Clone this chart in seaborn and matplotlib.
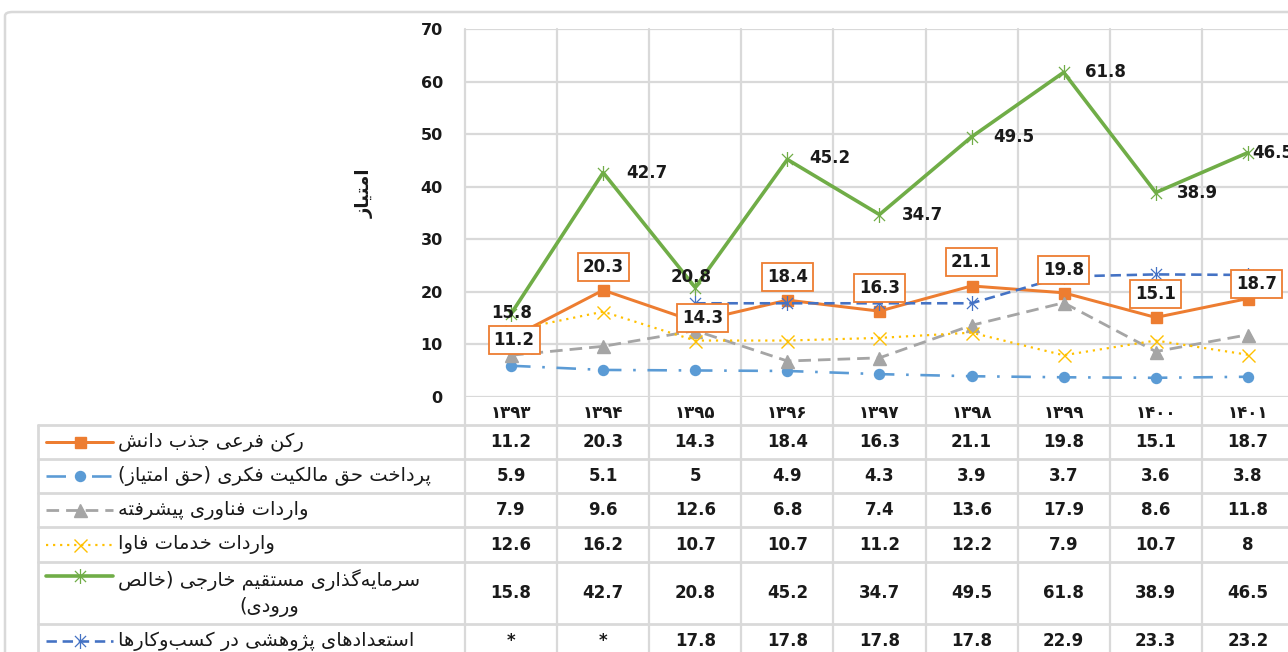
import numpy as np
import pandas as pd
import matplotlib
matplotlib.use("Agg")
import matplotlib.pyplot as plt
import seaborn as sns
from matplotlib.path import Path
from matplotlib.lines import Line2D
from matplotlib.patches import FancyBboxPatch
from matplotlib.transforms import blended_transform_factory

# ---------------- data ----------------
years = ['۱۳۹۳', '۱۳۹۴', '۱۳۹۵', '۱۳۹۶', '۱۳۹۷', '۱۳۹۸', '۱۳۹۹', '۱۴۰۰', '۱۴۰۱']
knowledge = [11.2, 20.3, 14.3, 18.4, 16.3, 21.1, 19.8, 15.1, 18.7]
ip_payments = [5.9, 5.1, 5.0, 4.9, 4.3, 3.9, 3.7, 3.6, 3.8]
hitech_imports = [7.9, 9.6, 12.6, 6.8, 7.4, 13.6, 17.9, 8.6, 11.8]
ict_imports = [12.6, 16.2, 10.7, 10.7, 11.2, 12.2, 7.9, 10.7, 8.0]
fdi = [15.8, 42.7, 20.8, 45.2, 34.7, 49.5, 61.8, 38.9, 46.5]
research = [np.nan, np.nan, 17.8, 17.8, 17.8, 17.8, 22.9, 23.3, 23.2]

series_names = [
    ["رکن فرعی جذب دانش"],
    ["پرداخت حق مالکیت فکری (حق امتیاز)"],
    ["واردات فناوری پیشرفته"],
    ["واردات خدمات فاوا"],
    ["سرمایه\u200cگذاری مستقیم خارجی (خالص", "ورودی)"],
    ["استعدادهای پژوهشی در کسب\u200cوکارها"],
]
y_label = "امتیاز"

# ---------------- Persian shaping (no external libs) ----------------
FORMS = {
    'ا': (0xFE8D, 0xFE8E, None, None), 'آ': (0xFE81, 0xFE82, None, None),
    'ب': (0xFE8F, 0xFE90, 0xFE91, 0xFE92), 'پ': (0xFB56, 0xFB57, 0xFB58, 0xFB59),
    'ت': (0xFE95, 0xFE96, 0xFE97, 0xFE98), 'ث': (0xFE99, 0xFE9A, 0xFE9B, 0xFE9C),
    'ج': (0xFE9D, 0xFE9E, 0xFE9F, 0xFEA0), 'چ': (0xFB7A, 0xFB7B, 0xFB7C, 0xFB7D),
    'ح': (0xFEA1, 0xFEA2, 0xFEA3, 0xFEA4), 'خ': (0xFEA5, 0xFEA6, 0xFEA7, 0xFEA8),
    'د': (0xFEA9, 0xFEAA, None, None), 'ذ': (0xFEAB, 0xFEAC, None, None),
    'ر': (0xFEAD, 0xFEAE, None, None), 'ز': (0xFEAF, 0xFEB0, None, None),
    'ژ': (0xFB8A, 0xFB8B, None, None),
    'س': (0xFEB1, 0xFEB2, 0xFEB3, 0xFEB4), 'ش': (0xFEB5, 0xFEB6, 0xFEB7, 0xFEB8),
    'ص': (0xFEB9, 0xFEBA, 0xFEBB, 0xFEBC), 'ض': (0xFEBD, 0xFEBE, 0xFEBF, 0xFEC0),
    'ط': (0xFEC1, 0xFEC2, 0xFEC3, 0xFEC4), 'ظ': (0xFEC5, 0xFEC6, 0xFEC7, 0xFEC8),
    'ع': (0xFEC9, 0xFECA, 0xFECB, 0xFECC), 'غ': (0xFECD, 0xFECE, 0xFECF, 0xFED0),
    'ف': (0xFED1, 0xFED2, 0xFED3, 0xFED4), 'ق': (0xFED5, 0xFED6, 0xFED7, 0xFED8),
    'ک': (0xFB8E, 0xFB8F, 0xFB90, 0xFB91), 'گ': (0xFB92, 0xFB93, 0xFB94, 0xFB95),
    'ل': (0xFEDD, 0xFEDE, 0xFEDF, 0xFEE0), 'م': (0xFEE1, 0xFEE2, 0xFEE3, 0xFEE4),
    'ن': (0xFEE5, 0xFEE6, 0xFEE7, 0xFEE8), 'ه': (0xFEE9, 0xFEEA, 0xFEEB, 0xFEEC),
    'و': (0xFEED, 0xFEEE, None, None), 'ی': (0xFBFC, 0xFBFD, 0xFBFE, 0xFBFF),
    'ئ': (0xFE89, 0xFE8A, 0xFE8B, 0xFE8C),
}


def shape(text):
    out = []
    n = len(text)
    for i, c in enumerate(text):
        if c not in FORMS:
            out.append(c)
            continue
        prev = text[i - 1] if i > 0 else None
        nxt = text[i + 1] if i < n - 1 else None
        prev_joins = prev in FORMS and FORMS[prev][2] is not None
        can_left = FORMS[c][2] is not None
        next_joins = can_left and (nxt in FORMS)
        iso, fin, ini, med = FORMS[c]
        if prev_joins and next_joins:
            out.append(chr(med))
        elif prev_joins:
            out.append(chr(fin))
        elif next_joins:
            out.append(chr(ini))
        else:
            out.append(chr(iso))
    s = ''.join(out).replace('\u200c', '')
    mirror = {'(': ')', ')': '('}
    return ''.join(mirror.get(ch, ch) for ch in reversed(s))


# ---------------- styles ----------------
W, H = 1288, 652
sns.set_theme(style="white")
plt.rcParams['font.family'] = ['DejaVu Sans']

def fx(x):
    return x / W

def fy(y):
    return 1 - y / H

PT = 0.72  # points per pixel at dpi 100
star = Path([(-1, -1), (1, 1), (-1, 1), (1, -1), (0, -1.35), (0, 1.35)],
            [Path.MOVETO, Path.LINETO, Path.MOVETO, Path.LINETO, Path.MOVETO, Path.LINETO])

all_series = [knowledge, ip_payments, hitech_imports, ict_imports, fdi, research]
styles = [
    dict(color='#ED7D31', lw=3.0 * PT, ls='-', marker='s', ms=11 * PT, mfc='#ED7D31', mec='#ED7D31', mew=1),
    dict(color='#5B9BD5', lw=2.6 * PT, ls=(0, (7.5, 4.5, 1.0, 4.5)), marker='o', ms=10 * PT, mfc='#5B9BD5', mec='#5B9BD5', mew=1),
    dict(color='#A5A5A5', lw=2.8 * PT, ls=(0, (4.5, 2.5)), marker='^', ms=13 * PT, mfc='#A5A5A5', mec='#A5A5A5', mew=1),
    dict(color='#FFC000', lw=2.2 * PT, ls=(0, (1, 2.2)), marker='x', ms=13 * PT, mfc='none', mec='#FFC000', mew=1.0),
    dict(color='#70AD47', lw=3.6 * PT, ls='-', marker=star, ms=15 * PT, mfc='none', mec='#70AD47', mew=0.9),
    dict(color='#4472C4', lw=2.6 * PT, ls=(0, (4, 2.2)), marker=star, ms=15 * PT, mfc='none', mec='#4472C4', mew=0.9),
]
grid_color = '#D9D9D9'

fig = plt.figure(figsize=(W / 100, H / 100), dpi=100)
fig.patch.set_facecolor('white')

ax_left, ax_top, ax_bottom = 465, 29.3, 396.7
col_w = 92.1
ax = fig.add_axes([fx(ax_left), fy(ax_bottom), 9 * col_w / W, (ax_bottom - ax_top) / H])
ax.set_facecolor('none')

x = np.arange(len(years))
for vals, st in zip(all_series, styles):
    df = pd.DataFrame({'x': x, 'y': vals}).dropna()
    sns.lineplot(data=df, x='x', y='y', ax=ax, color=st['color'], linewidth=st['lw'],
                 linestyle=st['ls'], marker=st['marker'], markersize=st['ms'],
                 markerfacecolor=st['mfc'], markeredgecolor=st['mec'], markeredgewidth=st['mew'],
                 errorbar=None, legend=False, clip_on=False, dash_capstyle='butt')

ax.set_xlim(-0.5, len(years) - 0.5)
ax.set_ylim(0, 70)
ax.set_yticks(np.arange(0, 71, 10))
ax.set_yticklabels([str(v) for v in range(0, 71, 10)], fontsize=11.5, fontweight='bold', color='#1a1a1a')
ax.set_xticks(x)
ax.set_xticklabels(years, fontsize=12, fontweight='bold', color='#1a1a1a')
ax.tick_params(axis='y', length=0, pad=16)
ax.tick_params(axis='x', length=0, pad=5)
ax.set_xlabel('')
ax.set_ylabel('')
ax.grid(axis='y', color=grid_color, lw=1.6)
ax.grid(axis='x', visible=False)
for sp in ax.spines.values():
    sp.set_visible(False)
ax.set_axisbelow(True)

fig.text(fx(365), fy(193), shape(y_label), rotation=90, ha='center', va='center',
         fontsize=13, fontweight='bold', color='#1a1a1a')

# ---------------- data labels ----------------
orange_off = [(3, -2), (0, 23), (7, 4), (0, 23), (0, 23), (0, 24), (0, 23), (0, 23), (9, 15)]
for i, (v, (dx, dy)) in enumerate(zip(knowledge, orange_off)):
    ax.annotate(f"{v:g}", (i, v), xytext=(dx * PT, dy * PT), textcoords='offset points',
                ha='center', va='center', fontsize=12, fontweight='bold', color='#1a1a1a',
                bbox=dict(boxstyle='square,pad=0.3', fc='white', ec='#ED7D31', lw=1.3),
                zorder=10, annotation_clip=False)
green_off = [(1, 1), (44, 0), (-4, 11), (42, 1), (43, 0), (42, 0), (42, 0), (42, 0), (25, 0)]
for i, (v, (dx, dy)) in enumerate(zip(fdi, green_off)):
    ax.annotate(f"{v:g}", (i, v), xytext=(dx * PT, dy * PT), textcoords='offset points',
                ha='center', va='center', fontsize=12, fontweight='bold', color='#1a1a1a',
                zorder=10, annotation_clip=False)

# ---------------- data table ----------------
bt = blended_transform_factory(ax.transData, fig.transFigure)
row_edges = [425, 459, 493, 527, 562, 624, 690]
tbl_left = 38

# vertical lines (continuing the category grid)
for b in np.arange(-0.5, len(years), 1.0):
    fig.add_artist(Line2D([b, b], [fy(ax_top), fy(H + 5)], transform=bt, color=grid_color, lw=1.6, zorder=0))
fig.add_artist(Line2D([fx(tbl_left), fx(tbl_left)], [fy(row_edges[0]), fy(H + 5)],
                      transform=fig.transFigure, color=grid_color, lw=2))
for e in row_edges[:-1]:
    fig.add_artist(Line2D([fx(tbl_left), fx(W + 20)], [fy(e), fy(e)],
                          transform=fig.transFigure, color=grid_color, lw=2))

# chart border (rounded, runs past the right/bottom edge)
fig.add_artist(FancyBboxPatch((fx(5), fy(H + 30)), fx(W + 30), fy(12) - fy(H + 30),
                              boxstyle='round,pad=0,rounding_size=0.006', transform=fig.transFigure,
                              fc='none', ec='#D9D9D9', lw=1.8))

for r, (vals, st, name) in enumerate(zip(all_series, styles, series_names)):
    top, bot = row_edges[r], row_edges[r + 1]
    yc = (top + bot) / 2 if r < 5 else (top + 658) / 2
    key_y = yc if len(name) == 1 else top + 14
    # legend key
    fig.add_artist(Line2D([fx(46), fx(113)], [fy(key_y), fy(key_y)], transform=fig.transFigure,
                          color=st['color'], lw=st['lw'], ls=st['ls'], dash_capstyle='butt'))
    fig.add_artist(Line2D([fx(80)], [fy(key_y)], transform=fig.transFigure, ls='none',
                          marker=st['marker'], markersize=st['ms'], markerfacecolor=st['mfc'],
                          markeredgecolor=st['mec'], markeredgewidth=st['mew']))
    label = '\n'.join(shape(s) for s in name)
    fig.text(fx(118), fy(yc), label, ha='left', va='center', multialignment='center',
             fontsize=14, color='#1a1a1a', linespacing=1.45)
    for i, v in enumerate(vals):
        txt = '*' if np.isnan(v) else f"{v:g}"
        fig.text(i, fy(yc), txt, transform=bt, ha='center', va='center',
                 fontsize=12, fontweight='bold', color='#1a1a1a')

fig.savefig('out.png', dpi=100, facecolor='white')
